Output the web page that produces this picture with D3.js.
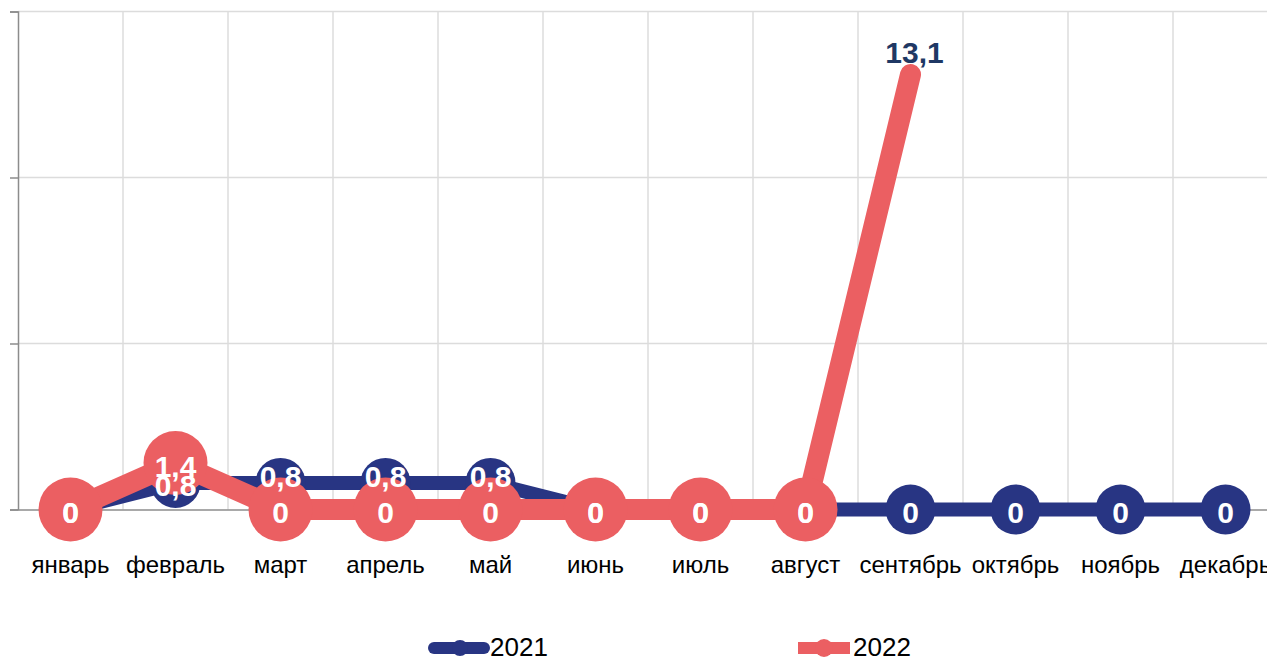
<!DOCTYPE html>
<html>
<head>
<meta charset="utf-8">
<script src="https://cdn.jsdelivr.net/npm/d3@7"></script>
<style>
  html, body { margin: 0; padding: 0; background: #fff; }
  svg { display: block; font-family: "Liberation Sans", Arial, sans-serif; }
</style>
</head>
<body>
<div id="chart"></div>
<script>
// Monthly values, 2021 vs 2022

const months = ['январь', 'февраль', 'март', 'апрель', 'май', 'июнь',
  'июль', 'август', 'сентябрь', 'октябрь', 'ноябрь', 'декабрь'];
const values2021 = [0, 0.8, 0.8, 0.8, 0.8, 0, 0, 0, 0, 0, 0, 0];
const values2022 = [0, 1.4, 0, 0, 0, 0, 0, 0, 13.1, null, null, null];
const yTicks = [0, 5, 10, 15];
const seriesNames = ['2021', '2022'];

const BLUE = '#283583';
const RED = '#eb5f62';

const width = 1267;
const height = 657;

const svg = d3.select('#chart')
  .append('svg')
  .attr('width', width)
  .attr('height', height);

// scales
const x = d3.scaleBand()
  .domain(months)
  .range([18, 1278])
  .padding(0);

const y = d3.scaleLinear()
  .domain([0, 15])
  .range([509.5, 11.5]);

const cx = m => x(m) + x.bandwidth() / 2;

// grid
const grid = svg.append('g');
grid.selectAll('line.h')
  .data(yTicks.filter(t => t > 0))
  .enter().append('line')
  .attr('x1', 18).attr('x2', 1278)
  .attr('y1', d => y(d)).attr('y2', d => y(d))
  .attr('stroke', '#dcdcdc')
  .attr('stroke-width', 1.5);

grid.selectAll('line.v')
  .data(months.slice(1))
  .enter().append('line')
  .attr('x1', d => x(d)).attr('x2', d => x(d))
  .attr('y1', y(15)).attr('y2', y(0))
  .attr('stroke', '#dcdcdc')
  .attr('stroke-width', 1.5);

// y axis (ticks only, no labels)
const yAxis = svg.append('g')
  .attr('transform', 'translate(18,0)')
  .call(d3.axisLeft(y).tickValues(yTicks).tickSize(8).tickFormat(''));
yAxis.select('.domain').attr('stroke', '#8c8c8c').attr('stroke-width', 1.5);
yAxis.selectAll('.tick line').attr('stroke', '#8c8c8c').attr('stroke-width', 1.5);

// x axis
const xAxis = svg.append('g')
  .attr('transform', `translate(0,${y(0)})`)
  .call(d3.axisBottom(x).tickSize(0).tickPadding(0));
xAxis.select('.domain').attr('stroke', '#8c8c8c').attr('stroke-width', 1.5);
xAxis.selectAll('.tick text')
  .attr('y', 63)
  .attr('dy', 0)
  .attr('fill', '#000')
  .style('font-size', '24px')
  .style('font-family', '"Liberation Sans", Arial, sans-serif');

const line = d3.line()
  .defined(d => d.v != null)
  .x(d => cx(d.m))
  .y(d => y(d.v));

const data2021 = months.map((m, i) => ({ m, v: values2021[i], other: values2022[i] }));
const data2022 = months.map((m, i) => ({ m, v: values2022[i] }));
const last2022 = d3.max(data2022, (d, i) => d.v != null ? i : -1);

// 2021 series
svg.append('path')
  .datum(data2021)
  .attr('d', line)
  .attr('fill', 'none')
  .attr('stroke', BLUE)
  .attr('stroke-width', 14)
  .attr('stroke-linejoin', 'round')
  .attr('stroke-linecap', 'round');

svg.append('g')
  .selectAll('circle')
  .data(data2021)
  .enter().append('circle')
  .attr('cx', d => cx(d.m))
  .attr('cy', d => y(d.v))
  .attr('r', 25)
  .attr('fill', BLUE);

// 2022 series
svg.append('path')
  .datum(data2022)
  .attr('d', line)
  .attr('fill', 'none')
  .attr('stroke', RED)
  .attr('stroke-width', 21)
  .attr('stroke-linejoin', 'round')
  .attr('stroke-linecap', 'round');

svg.append('g')
  .selectAll('circle')
  .data(data2022.filter((d, i) => d.v != null && i < last2022))
  .enter().append('circle')
  .attr('cx', d => cx(d.m))
  .attr('cy', d => y(d.v))
  .attr('r', 32)
  .attr('fill', RED);

// data labels
const fmt = v => String(v).replace('.', ',');

svg.append('g')
  .selectAll('text')
  .data(data2021)
  .enter().append('text')
  .attr('x', d => cx(d.m))
  // nudge up when sitting above the 2022 label of the same month
  .attr('y', d => y(d.v) + (d.other != null && d.v > d.other ? -6 : 3))
  .attr('text-anchor', 'middle')
  .attr('dominant-baseline', 'central')
  .attr('fill', '#fff')
  .style('font-size', '30px')
  .style('font-weight', 'bold')
  .text(d => fmt(d.v));

svg.append('g')
  .selectAll('text')
  .data(data2022.filter(d => d.v != null))
  .enter().append('text')
  .attr('x', (d, i) => cx(d.m) + (i === last2022 ? 4 : 0))
  .attr('y', (d, i) => i === last2022 ? y(d.v) - 22 : y(d.v) + 3)
  .attr('text-anchor', 'middle')
  .attr('dominant-baseline', 'central')
  .attr('fill', (d, i) => i === last2022 ? '#1f3864' : '#fff')
  .style('font-size', '30px')
  .style('font-weight', 'bold')
  .text(d => fmt(d.v));

// legend
const legend = svg.append('g');
const legendItems = [
  { name: seriesNames[0], color: BLUE, x1: 434, x2: 484, x: 460, r: 8, cap: 'round', tx: 490 },
  { name: seriesNames[1], color: RED, x1: 798, x2: 850, x: 824, r: 9, cap: 'butt', tx: 853 }
];

legendItems.forEach(it => {
  legend.append('line')
    .attr('x1', it.x1).attr('x2', it.x2)
    .attr('y1', 648).attr('y2', 648)
    .attr('stroke', it.color)
    .attr('stroke-width', 12)
    .attr('stroke-linecap', it.cap);
  legend.append('circle')
    .attr('cx', it.x).attr('cy', 648)
    .attr('r', it.r)
    .attr('fill', it.color);
  legend.append('text')
    .attr('x', it.tx).attr('y', 656)
    .attr('fill', '#000')
    .style('font-size', '26px')
    .text(it.name);
});
</script>
</body>
</html>
